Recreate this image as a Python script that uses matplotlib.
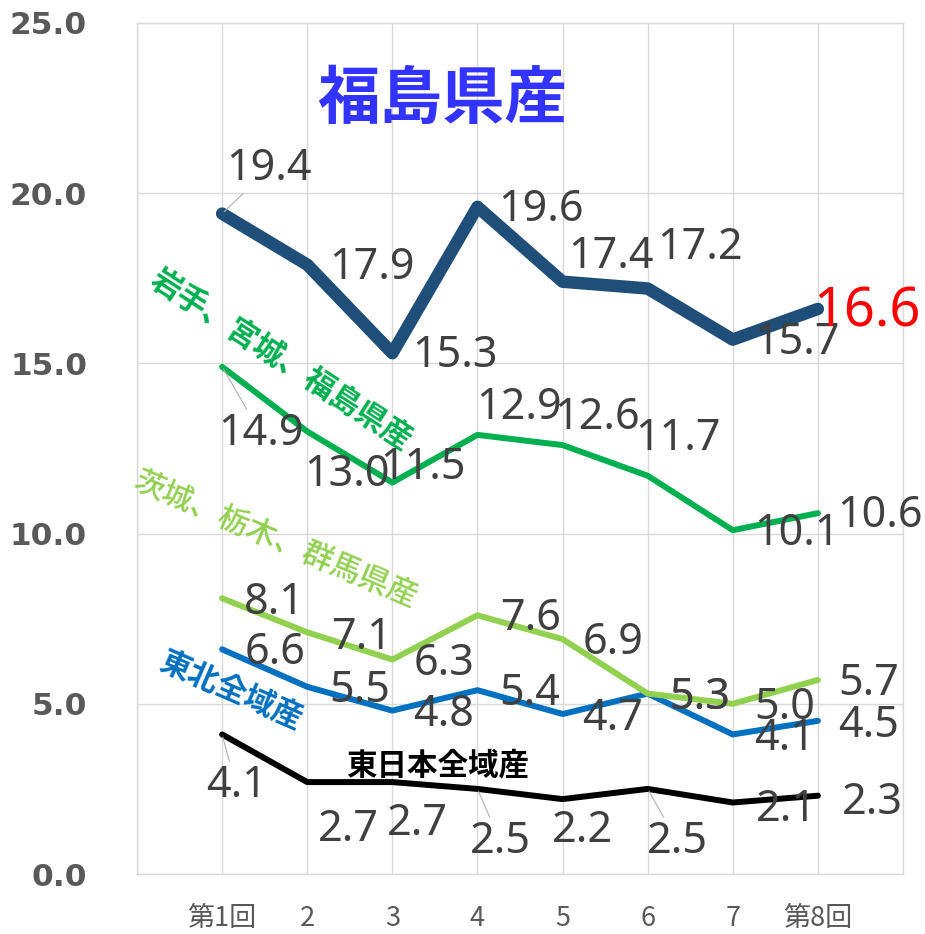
import numpy as np
import matplotlib

matplotlib.use("Agg")
import matplotlib.pyplot as plt

rounds = ["第1回", "2", "3", "4", "5", "6", "7", "第8回"]

fukushima = [19.4, 17.9, 15.3, 19.6, 17.4, 17.2, 15.7, 16.6]
iwate_miyagi_fukushima = [14.9, 13.0, 11.5, 12.9, 12.6, 11.7, 10.1, 10.6]
ibaraki_tochigi_gunma = [8.1, 7.1, 6.3, 7.6, 6.9, 5.3, 5.0, 5.7]
tohoku_all = [6.6, 5.5, 4.8, 5.4, 4.7, 5.3, 4.1, 4.5]
east_japan_all = [4.1, 2.7, 2.7, 2.5, 2.2, 2.5, 2.1, 2.3]

CJK = ["Noto Sans CJK JP", "DejaVu Sans"]
LABEL_COLOR = "#404040"
GRID = "#d9d9d9"

# label offsets in pixels (dx, dy up) relative to each point
off_fk = [(47, 45), (65, -3), (63, -3), (64, -3), (48, 25), (52, 41), (64, -3), (49, -3)]
off_imf = [(39, -67), (40, -44), (31, 15), (42, 27), (34, 27), (30, 37), (64, -4), (62, -3)]
off_itg = [(52, -5), (54, -6), (52, -4), (53, -4), (51, -4), (52, -4), (52, -4), (51, -4)]
off_th = [(53, -4), (53, -4), (51, -4), (52, -4), (50, -5), (52, -4), (52, -5), (51, -5)]
off_ej = [(14, -52), (41, -48), (25, -42), (23, -53), (20, -32), (30, -53), (54, -7), (54, -7)]

leaders = {("fk", 0), ("imf", 0), ("ej", 0), ("ej", 3), ("ej", 5)}

fig = plt.figure(figsize=(9.25, 9.34), dpi=100)
ax = fig.add_axes([137 / 925, 1 - 874 / 934, (903 - 137) / 925, (874 - 23) / 934])

x = np.arange(1, len(rounds) + 1)

series = [
    ("ej", east_japan_all, "black", 4.3, off_ej),
    ("th", tohoku_all, "#0070c0", 4.3, off_th),
    ("itg", ibaraki_tochigi_gunma, "#92d050", 4.3, off_itg),
    ("imf", iwate_miyagi_fukushima, "#00b050", 4.3, off_imf),
    ("fk", fukushima, "#1f4e79", 9.0, off_fk),
]

for key, vals, color, lw, offs in series:
    ax.plot(x, vals, color=color, lw=lw, solid_capstyle="round", solid_joinstyle="round", zorder=3)
    for i, (xi, v) in enumerate(zip(x, vals)):
        big = key == "fk" and i == len(vals) - 1
        kw = {}
        if (key, i) in leaders:
            kw["arrowprops"] = dict(arrowstyle="-", color="#b0b0b0", lw=0.8, shrinkA=0, shrinkB=2)
        ax.annotate(f"{v:.1f}", (xi, v), xytext=offs[i], textcoords="offset pixels",
                    ha="center", va="center", fontsize=39 if big else 31,
                    color="#ff0000" if big else LABEL_COLOR, family="Noto Sans", zorder=4, **kw)

ax.set_xlim(0, 9)
ax.set_ylim(0, 25)
ax.set_xticks(x, rounds, family=CJK, fontsize=19.5, color="#595959")
ax.set_xticks(np.arange(0, 10), minor=True)
ax.set_yticks(np.arange(0, 26, 5), [f"{t:.1f}" for t in np.arange(0, 26, 5)],
              fontsize=22.5, fontweight="bold", color="#595959")
ax.tick_params(axis="both", which="both", length=0)
ax.tick_params(axis="x", pad=22)
ax.tick_params(axis="y", pad=36)
ax.grid(which="both", color=GRID, lw=1)
ax.set_axisbelow(True)
for sp in ax.spines.values():
    sp.set_color(GRID)
    sp.set_linewidth(1)

ax.text(3.59, 22.74, "福島県産", family=CJK, fontsize=45, fontweight="bold", color="#3333ff",
        ha="center", va="center")
ax.text(1.70, 15.1, "岩手、宮城、福島県産", family=CJK, fontsize=22, fontweight="bold", color="#00b050",
        ha="center", va="center", rotation=-33, rotation_mode="anchor")
ax.text(1.62, 9.81, "茨城、栃木、群馬県産", family=CJK, fontsize=22, fontweight="medium", color="#92d050",
        ha="center", va="center", rotation=-23, rotation_mode="anchor")
ax.text(1.10, 5.41, "東北全域産", family=CJK, fontsize=22, fontweight="bold", color="#0070c0",
        ha="center", va="center", rotation=-23.5, rotation_mode="anchor")
ax.text(3.53, 3.2, "東日本全域産", family=CJK, fontsize=22, fontweight="bold", color="black",
        ha="center", va="center")

fig.savefig("out.png", dpi=100)
